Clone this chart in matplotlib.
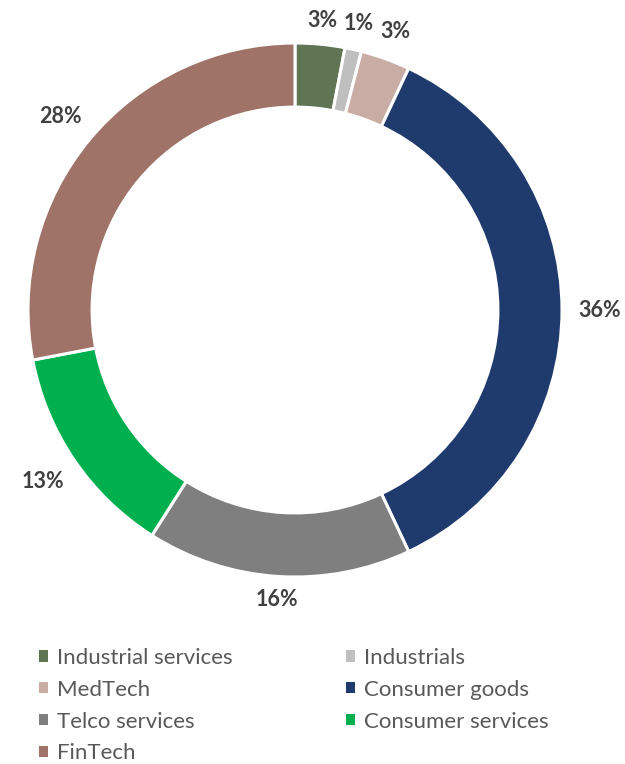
import numpy as np
import matplotlib.pyplot as plt
from matplotlib.patches import Patch

sectors = ['Industrial services', 'Industrials', 'MedTech', 'Consumer goods',
           'Telco services', 'Consumer services', 'FinTech']
shares = [3, 1, 3, 36, 16, 13, 28]
colors = ['#5f7553', '#bfbfbf', '#c9aca4', '#1f3a6c',
          '#7f7f7f', '#00b04f', '#9f7367']

plt.rcParams['font.family'] = ['Lato', 'DejaVu Sans']

fig = plt.figure(figsize=(6.25, 7.64), dpi=100)

# square axes centred on the ring, 1 data unit = 267 px
half = 300 / 267
ax = fig.add_axes([(295 - 300) / 625, (454 - 300) / 764, 600 / 625, 600 / 764])

wedges, _ = ax.pie(shares, colors=colors, startangle=90, counterclock=False,
                   radius=1.0,
                   wedgeprops=dict(width=0.24, edgecolor='white', linewidth=2.2))
# pie() resets the limits, so set them afterwards
ax.set_xlim(-half, half)
ax.set_ylim(-half, half)
ax.set_aspect('equal')
ax.axis('off')

# percentage labels just outside the ring
for w, v in zip(wedges, shares):
    mid = np.deg2rad((w.theta1 + w.theta2) / 2)
    c, s = np.cos(mid), np.sin(mid)
    r = 1.05 + abs(c) * 0.09 + abs(s) * 0.03
    ax.text(r * c, r * s, f'{v}%', ha='center', va='center',
            fontsize=15.5, fontweight='bold', color='#404040')

order = [0, 2, 4, 6, 1, 3, 5]
handles = [Patch(facecolor=colors[i], edgecolor='none') for i in order]
fig.legend(handles, [sectors[i] for i in order], ncol=2,
           loc='upper left', bbox_to_anchor=(39 / 625, 1 - 648 / 764),
           frameon=False, fontsize=16, labelcolor='#595959',
           handlelength=0.4, handleheight=0.4, handletextpad=0.4,
           columnspacing=5.1, labelspacing=0.53, borderpad=0,
           borderaxespad=0)

fig.savefig('out.png', dpi=100, facecolor='white')
